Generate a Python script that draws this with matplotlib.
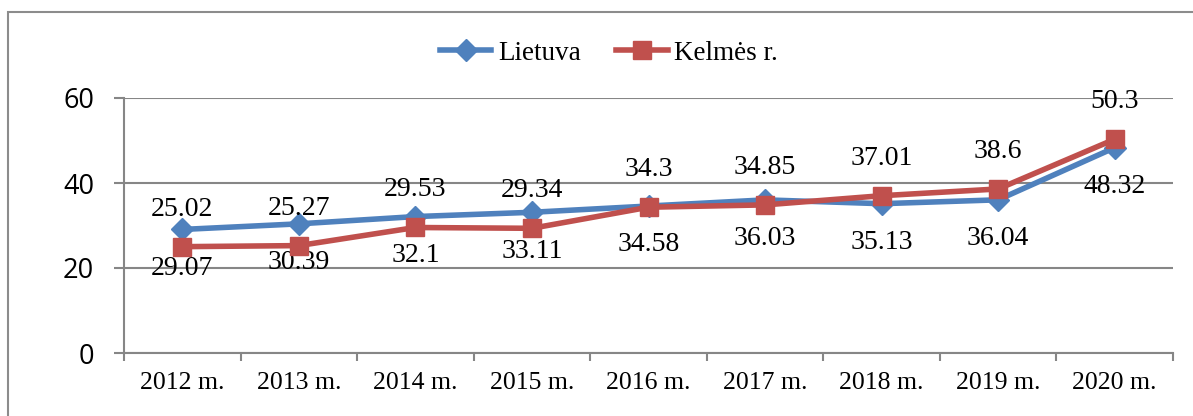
import matplotlib
matplotlib.use("Agg")
import matplotlib.pyplot as plt
from matplotlib.lines import Line2D

# ── Dati ─────────────────────────────────────────────────────────────────────
years    = ["2012 m.", "2013 m.", "2014 m.", "2015 m.", "2016 m.",
            "2017 m.", "2018 m.", "2019 m.", "2020 m."]
lietuva  = [29.07, 30.39, 32.1, 33.11, 34.58, 36.03, 35.13, 36.04, 48.32]
kelmes   = [25.02, 25.27, 29.53, 29.34, 34.3, 34.85, 37.01, 38.6, 50.3]
# etichette come stampate nel grafico originale
lbl_above = ["25.02", "25.27", "29.53", "29.34", "34.3", "34.85", "37.01", "38.6", "50.3"]
lbl_below = ["29.07", "30.39", "32.1", "33.11", "34.58", "36.03", "35.13", "36.04", "48.32"]

BLUE  = "#4F81BD"
RED   = "#C0504D"
GRID  = "#868686"
SERIF = "Liberation Serif"
SANS  = "Open Sans"
# ─────────────────────────────────────────────────────────────────────────────

W, H = 1193, 416
fig = plt.figure(figsize=(W / 100, H / 100), dpi=100)
ax = fig.add_axes([124 / W, 1 - 353 / H, (1173 - 124) / W, (353 - 98) / H])

# cornice esterna
fig.add_artist(plt.Rectangle((8 / W, -0.2), 1.3, 1.2 - 12 / H,
                             transform=fig.transFigure, fill=False,
                             edgecolor="#8c8c8c", linewidth=1.5))

x = [i + 0.5 for i in range(len(years))]
ax.plot(x, lietuva, color=BLUE, linewidth=4, marker="D", markersize=11,
        zorder=3, label="Lietuva")
ax.plot(x, kelmes, color=RED, linewidth=4, marker="s", markersize=13,
        zorder=4, label="Kelmės r.")

for xi, r, b, ta, tb in zip(x, kelmes, lietuva, lbl_above, lbl_below):
    ax.annotate(ta, (xi, r), xytext=(0, 27), textcoords="offset points",
                ha="center", va="center", fontsize=20, family=SERIF)
    ax.annotate(tb, (xi, b), xytext=(0, -28), textcoords="offset points",
                ha="center", va="center", fontsize=20, family=SERIF)

ax.set_xlim(0, len(years))
ax.set_ylim(0, 60)
ax.set_yticks([0, 20, 40, 60])
ax.set_xticks(range(len(years) + 1))
ax.set_xticklabels([])
ax.set_xticks(x, minor=True)
ax.set_xticklabels(years, minor=True, family=SERIF, fontsize=18.5)
ax.tick_params(axis="x", which="major", length=5.5, width=1.5, color=GRID, direction="out")
ax.tick_params(axis="x", which="minor", length=0, pad=14)
ax.tick_params(axis="y", length=7.5, width=1.5, color=GRID, pad=14, labelsize=19.5)
for t in ax.get_yticklabels():
    t.set_family(SANS)

ax.grid(axis="y", color=GRID, linewidth=1.5)
ax.set_axisbelow(True)
for s in ["top", "right"]:
    ax.spines[s].set_visible(False)
for s in ["left", "bottom"]:
    ax.spines[s].set_color(GRID)
    ax.spines[s].set_linewidth(1.5)

handles = [Line2D([], [], color=BLUE, linewidth=4, marker="D", markersize=11),
           Line2D([], [], color=RED, linewidth=4, marker="s", markersize=13)]
fig.legend(handles, ["Lietuva", "Kelmės r."], loc="center",
           bbox_to_anchor=(609 / W, 1 - 53 / H), ncol=2, frameon=False,
           prop={"family": SERIF, "size": 19.5}, handlelength=1.9,
           handletextpad=0.25, columnspacing=1.3)

fig.savefig("out.png", dpi=100)
